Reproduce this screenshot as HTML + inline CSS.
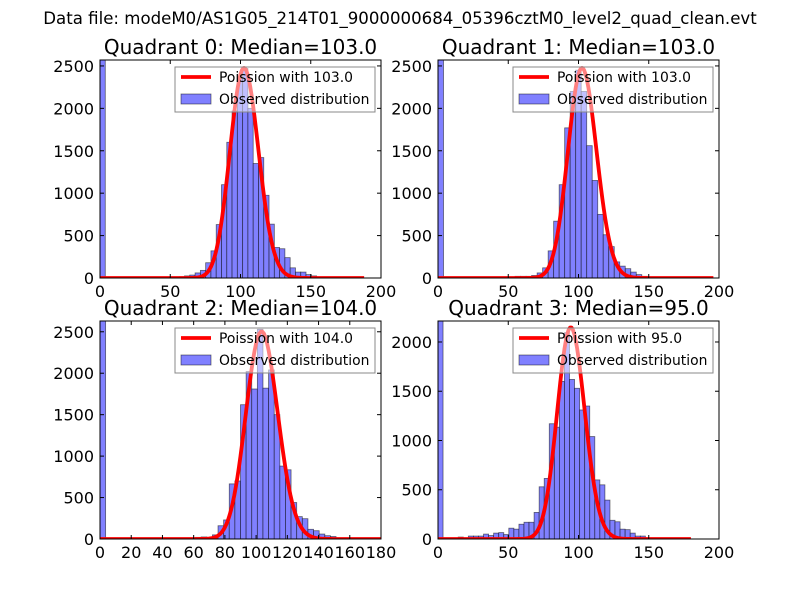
<!DOCTYPE html>
<html><head><meta charset="utf-8"><style>
body{margin:0;background:#fff}
svg text{font-family:"DejaVu Sans","Liberation Sans",sans-serif}
</style></head><body>
<svg id="fig" width="800" height="600" xmlns="http://www.w3.org/2000/svg">
<rect width="800" height="600" fill="#fff"/>
<text x="400" y="24" text-anchor="middle" font-size="16.6">Data file: modeM0/AS1G05_214T01_9000000684_05396cztM0_level2_quad_clean.evt</text>
</svg>
<script>
// ---- data ----
const quadrantNames = ["Quadrant 0: Median=103.0","Quadrant 1: Median=103.0","Quadrant 2: Median=104.0","Quadrant 3: Median=95.0"];
const poissonLambda = [103.0, 103.0, 104.0, 95.0];
const poissonScale = [63000, 63000, 64000, 52500];
const binMax = [188, 196, 180, 180];
const xMaxes = [200, 200, 180, 200];
const yMaxes = [2570, 2570, 2630, 2213];
const xTicks0 = [0,50,100,150,200];
const xTicks2 = [0,20,40,60,80,100,120,140,160,180];
const yTicks0 = [0,500,1000,1500,2000,2500];
const yTicks3 = [0,500,1000,1500,2000];
const q0Counts = [2700,0,0,0,0,0,0,0,0,0,0,0,0,0,8,15,25,35,60,90,180,320,630,1100,1600,1970,2350,2470,2000,1350,1420,975,635,360,345,240,120,70,70,40,25,10,8,0,0,0,0,0,0,0];
const q1Counts = [2700,0,0,0,0,0,0,0,0,0,0,0,0,0,20,20,20,30,60,120,320,670,1100,1770,2200,2450,2200,1560,1150,750,510,370,190,140,110,70,40,20,10,0,0,0,0,0,0,0,0,0,0,0];
const q2Counts = [2800,0,0,0,0,0,0,0,0,0,0,0,0,0,0,0,0,20,25,20,50,160,230,665,700,1620,2020,1810,2530,1820,2040,1500,880,835,440,270,245,117,100,60,40,30,10,0,0,0,0,0,0,0];
const q3Counts = [2300,0,0,0,20,10,30,30,30,50,35,60,65,45,110,100,150,170,170,270,530,615,1170,1135,1600,2095,1620,1530,1310,1350,1040,600,550,395,190,175,100,95,60,30,30,0,0,0,0,0,0,0,0,0];
</script>
<script>
const svg = document.getElementById('fig');
const NS = 'http://www.w3.org/2000/svg';
function mk(tag, attrs, parent){const e=document.createElementNS(NS,tag);for(const k in attrs)e.setAttribute(k,attrs[k]);(parent||svg).appendChild(e);return e;}
const panels = [
 {x:100,y:60,counts:q0Counts,xt:xTicks0,yt:yTicks0},
 {x:438,y:60,counts:q1Counts,xt:xTicks0,yt:yTicks0},
 {x:100,y:321,counts:q2Counts,xt:xTicks2,yt:yTicks0},
 {x:438,y:321,counts:q3Counts,xt:xTicks0,yt:yTicks3}
];
const W=281,H=218;
panels.forEach((p,i)=>{
  const g=mk('g',{});
  
  
  const sx=v=>p.x+v/xMaxes[i]*W;
  const sy=v=>p.y+H-v/yMaxes[i]*H;
  const cp=mk('clipPath',{id:'c'+i},g);mk('rect',{x:p.x,y:p.y,width:W,height:H},cp);
  const pg=mk('g',{'clip-path':'url(#c'+i+')'},g);
  const bw=binMax[i]/p.counts.length;
  p.counts.forEach((c,k)=>{
    if(c<=0)return;
    const r=mk('rect',{x:sx(k*bw),y:sy(c),width:sx((k+1)*bw)-sx(k*bw),height:sy(0)-sy(c),fill:'#8080ff',stroke:'rgba(0,0,0,0.55)','stroke-width':0.8},pg);
    
    
  });
  let pts=[],lf=0;
  const lam=poissonLambda[i];
  for(let k=0;k<=Math.floor(binMax[i]);k++){
    if(k>0)lf+=Math.log(k);
    const v=poissonScale[i]*Math.exp(-lam+k*Math.log(lam)-lf);
    pts.push(sx(k).toFixed(2)+','+sy(v).toFixed(2));
  }
  const pl=mk('polyline',{points:pts.join(' '),fill:'none',stroke:'#ff0000','stroke-width':3.8,'stroke-linejoin':'round'},pg);
  
  
  mk('rect',{x:p.x,y:p.y,width:W,height:H,fill:'none',stroke:'#000','stroke-width':1},g);
  p.xt.forEach(t=>{
    const X=sx(t);
    mk('line',{x1:X,y1:p.y+H,x2:X,y2:p.y+H-4,stroke:'#000'},g);
    mk('line',{x1:X,y1:p.y,x2:X,y2:p.y+4,stroke:'#000'},g);
    const tx=mk('text',{x:X,y:p.y+H+19,'text-anchor':'middle','font-size':16},g);tx.textContent=t;
    
    
  });
  p.yt.forEach(t=>{
    const Y=sy(t);
    mk('line',{x1:p.x,y1:Y,x2:p.x+4,y2:Y,stroke:'#000'},g);
    mk('line',{x1:p.x+W,y1:Y,x2:p.x+W-4,y2:Y,stroke:'#000'},g);
    const tx=mk('text',{x:p.x-6,y:Y+6,'text-anchor':'end','font-size':16},g);tx.textContent=t;
    
    
  });
  const ti=mk('text',{x:p.x+W/2,y:p.y-6,'text-anchor':'middle','font-size':20},g);ti.textContent=quadrantNames[i];
  
  
  const lg=mk('g',{},g);
  
  
  const lx=p.x+75,ly=p.y+7;
  mk('rect',{x:lx,y:ly,width:200,height:45,fill:'rgba(255,255,255,0.5)',stroke:'#888','stroke-width':1},lg);
  mk('line',{x1:lx+6,y1:ly+10,x2:lx+36,y2:ly+10,stroke:'#ff0000','stroke-width':3.8},lg);
  const t1=mk('text',{x:lx+44,y:ly+15,'font-size':13.9},lg);t1.textContent='Poission with '+poissonLambda[i].toFixed(1);
  
  
  mk('rect',{x:lx+6,y:ly+27,width:30,height:10,fill:'#8080ff',stroke:'rgba(0,0,0,0.55)','stroke-width':0.8},lg);
  const t2=mk('text',{x:lx+44,y:ly+37,'font-size':13.9},lg);t2.textContent='Observed distribution';
  
  
});
</script>
</body></html>
